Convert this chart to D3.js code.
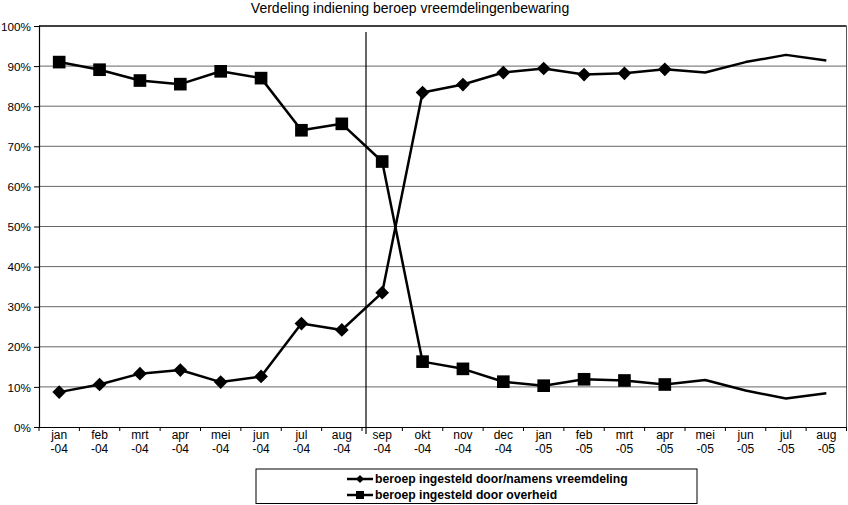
<!DOCTYPE html>
<html>
<head>
<meta charset="utf-8">
<script src="https://cdn.jsdelivr.net/npm/d3@7/dist/d3.min.js"></script>
<style>
  body { margin: 0; background: #fff; }
  svg { display: block; font-family: "Liberation Sans", Arial, sans-serif; }
</style>
</head>
<body>
<svg id="chart" width="848" height="505"></svg>
<script>
const title = "Verdeling indiening beroep vreemdelingenbewaring";
const monthLabels = ["jan","feb","mrt","apr","mei","jun","jul","aug","sep","okt","nov","dec","jan","feb","mrt","apr","mei","jun","jul","aug"];
const yearLabels = ["-04","-04","-04","-04","-04","-04","-04","-04","-04","-04","-04","-04","-05","-05","-05","-05","-05","-05","-05","-05"];
const seriesNames = ["beroep ingesteld door/namens vreemdeling", "beroep ingesteld door overheid"];
const vreemdeling = [8.7, 10.6, 13.3, 14.2, 11.2, 12.6, 25.8, 24.2, 33.5, 83.4, 85.4, 88.4, 89.4, 87.9, 88.2, 89.2, 88.4, 91.0, 92.8, 91.4];
const overheid = [91.0, 89.1, 86.4, 85.5, 88.7, 87.0, 74.0, 75.6, 66.2, 16.3, 14.5, 11.3, 10.3, 11.9, 11.6, 10.6, 11.7, 9.1, 7.1, 8.4];
const markerCount = 16; // markers shown jan-04 .. apr-05
const yTicks = [0, 10, 20, 30, 40, 50, 60, 70, 80, 90, 100];

const svg = d3.select("#chart");
const pL = 39, pR = 846.5, pT = 26, pB = 427;
const idx = d3.range(monthLabels.length);

const x = d3.scaleBand().domain(idx).range([pL, pR]).padding(0);
const y = d3.scaleLinear().domain([0, 100]).range([pB, pT]);
const cx = i => x(i) + x.bandwidth() / 2;

// title
svg.append("text").attr("x", 410).attr("y", 13).attr("text-anchor", "middle")
  .attr("font-size", 14).attr("fill", "#000").text(title);

// gridlines
svg.append("g").selectAll("line").data(yTicks.slice(1, -1)).join("line")
  .attr("x1", pL).attr("x2", pR).attr("y1", d => y(d)).attr("y2", d => y(d))
  .attr("stroke", "#666").attr("stroke-width", 1);

// plot border
svg.append("line").attr("x1", pL).attr("x2", pR).attr("y1", pT).attr("y2", pT)
  .attr("stroke", "#000").attr("stroke-width", 1.5);
svg.append("line").attr("x1", pR).attr("x2", pR).attr("y1", pT).attr("y2", pB)
  .attr("stroke", "#555").attr("stroke-width", 1);

// y axis
const yAxis = d3.axisLeft(y).tickValues(yTicks).tickFormat(d => d + "%").tickSize(5).tickPadding(3);
const gy = svg.append("g").attr("transform", `translate(${pL},0)`).call(yAxis);
gy.select(".domain").attr("stroke", "#000").attr("stroke-width", 1.2);
gy.selectAll(".tick line").attr("stroke", "#000");
gy.selectAll(".tick text").attr("font-size", 11.7).attr("fill", "#000")
  .attr("font-family", "Liberation Sans, Arial, sans-serif").attr("dy", "0.35em");

// x axis: labels
const xAxis = d3.axisBottom(x).tickSize(0).tickFormat(() => "");
const gx = svg.append("g").attr("transform", `translate(0,${pB})`).call(xAxis);
gx.select(".domain").attr("stroke", "#000").attr("stroke-width", 1.2);
gx.selectAll(".tick").each(function(d) {
  const t = d3.select(this).select("text").attr("font-size", 12).attr("fill", "#000")
    .attr("font-family", "Liberation Sans, Arial, sans-serif").attr("y", 0).attr("dy", null);
  t.append("tspan").attr("x", 0).attr("y", 12).text(monthLabels[d]);
  t.append("tspan").attr("x", 0).attr("y", 26).text(yearLabels[d]);
});
// x tick marks between categories
svg.append("g").selectAll("line").data(d3.range(monthLabels.length + 1)).join("line")
  .attr("x1", i => pL + i * x.bandwidth()).attr("x2", i => pL + i * x.bandwidth())
  .attr("y1", pB).attr("y2", pB + 4).attr("stroke", "#000");

// vertical separator line
svg.append("line").attr("x1", 366).attr("x2", 366).attr("y1", 32).attr("y2", 434)
  .attr("stroke", "#000").attr("stroke-width", 1.2);

const line = d3.line().x((d, i) => cx(i)).y(d => y(d));

// series lines
svg.append("path").datum(vreemdeling).attr("d", line).attr("fill", "none")
  .attr("stroke", "#000").attr("stroke-width", 2.5).attr("stroke-linejoin", "round");
svg.append("path").datum(overheid).attr("d", line).attr("fill", "none")
  .attr("stroke", "#000").attr("stroke-width", 2.5).attr("stroke-linejoin", "round");

// markers
const diamond = d3.symbol().type(d3.symbolDiamond2).size(120);
const square = d3.symbol().type(d3.symbolSquare).size(160);
svg.append("g").selectAll("path").data(vreemdeling.slice(0, markerCount)).join("path")
  .attr("d", diamond).attr("transform", (d, i) => `translate(${cx(i)},${y(d)})`).attr("fill", "#000");
svg.append("g").selectAll("path").data(overheid.slice(0, markerCount)).join("path")
  .attr("d", square).attr("transform", (d, i) => `translate(${cx(i)},${y(d)})`).attr("fill", "#000");

// legend
const lg = svg.append("g");
lg.append("rect").attr("x", 256).attr("y", 469).attr("width", 441).attr("height", 34.5)
  .attr("fill", "#fff").attr("stroke", "#000").attr("stroke-width", 1);
const legendRows = [{name: seriesNames[0], sym: d3.symbol().type(d3.symbolDiamond2).size(40), yy: 479},
                    {name: seriesNames[1], sym: d3.symbol().type(d3.symbolSquare).size(64), yy: 495}];
legendRows.forEach(r => {
  lg.append("line").attr("x1", 347).attr("x2", 373).attr("y1", r.yy).attr("y2", r.yy)
    .attr("stroke", "#000").attr("stroke-width", 2.5);
  lg.append("path").attr("d", r.sym).attr("transform", `translate(360,${r.yy})`).attr("fill", "#000");
  lg.append("text").attr("x", 375).attr("y", r.yy).attr("dy", "0.35em")
    .attr("font-size", 12.2).attr("font-weight", "bold").attr("fill", "#000").text(r.name);
});
</script>
</body>
</html>
